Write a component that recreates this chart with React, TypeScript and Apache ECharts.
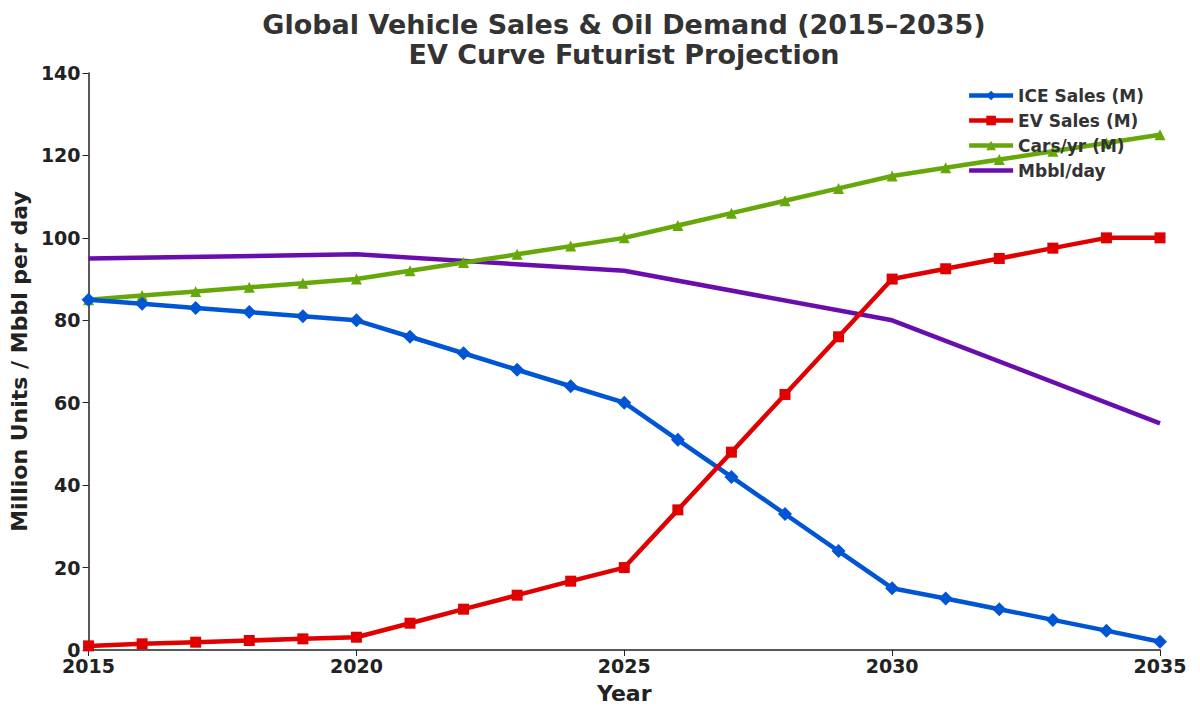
import React, { useEffect, useRef } from "react";
import * as echarts from "echarts";

const years = [2015, 2016, 2017, 2018, 2019, 2020, 2021, 2022, 2023, 2024, 2025, 2026, 2027, 2028, 2029, 2030, 2031, 2032, 2033, 2034, 2035];
const iceSales = [85, 84, 83, 82, 81, 80, 76, 72, 68, 64, 60, 51, 42, 33, 24, 15, 12.5, 9.9, 7.3, 4.7, 2];
const evSales = [1, 1.5, 1.9, 2.3, 2.7, 3.1, 6.5, 9.9, 13.3, 16.7, 20, 34, 48, 62, 76, 90, 92.5, 95, 97.5, 100, 100];
const carsPerYear = [85, 86, 87, 88, 89, 90, 92, 94, 96, 98, 100, 103, 106, 109, 112, 115, 117, 119, 121, 123, 125];
const oilYears = [2015, 2020, 2025, 2030, 2035];
const oilDemand = [95, 96, 92, 80, 55];

const FONT = "DejaVu Sans";

export default function App() {
  const ref = useRef<HTMLDivElement>(null);
  useEffect(() => {
    const chart = echarts.init(ref.current!, undefined, { renderer: "svg" });
    const pair = (xs: number[], ys: number[]) => xs.map((x, i) => [x, ys[i]]);
    chart.setOption({
      animation: false,
      backgroundColor: "#ffffff",
      textStyle: { fontFamily: FONT },
      title: {
        text: "Global Vehicle Sales & Oil Demand (2015–2035)\nEV Curve Futurist Projection",
        left: 619,
        top: 4,
        textAlign: "center",
        textStyle: { fontFamily: FONT, fontWeight: "bold", fontSize: 27, color: "#333333", lineHeight: 30 },
      },
      legend: {
        orient: "vertical",
        right: 51,
        top: 82,
        itemWidth: 44,
        itemHeight: 12,
        itemGap: 8,
        lineStyle: { width: 4.5 },
        textStyle: { fontFamily: FONT, fontWeight: "bold", fontSize: 17, color: "#333333" },
        data: [
          "ICE Sales (M)",
          "EV Sales (M)",
          "Cars/yr (M)",
          { name: "Mbbl/day", itemStyle: { opacity: 0 } },
        ],
      },
      grid: { left: 88, right: 40, top: 73, bottom: 65, containLabel: false },
      xAxis: {
        type: "value",
        min: 2015,
        max: 2035,
        interval: 5,
        name: "Year",
        nameLocation: "middle",
        nameGap: 32,
        nameTextStyle: { fontFamily: FONT, fontWeight: "bold", fontSize: 22, color: "#222222" },
        axisLine: { lineStyle: { color: "#222222", width: 1.5 } },
        axisTick: { show: true, length: 6, inside: false, lineStyle: { color: "#222222" } },
        axisLabel: {
          fontFamily: FONT,
          fontWeight: "bold",
          fontSize: 19,
          lineHeight: 15,
          color: "#222222",
          margin: 8,
          formatter: (v: number) => String(v),
        },
        splitLine: { show: false },
      },
      yAxis: {
        type: "value",
        min: 0,
        max: 140,
        interval: 20,
        name: "Million Units / Mbbl per day",
        nameLocation: "middle",
        nameGap: 52,
        nameTextStyle: { fontFamily: FONT, fontWeight: "bold", fontSize: 22, color: "#222222" },
        axisLine: { show: true, lineStyle: { color: "#222222", width: 1.5 } },
        axisTick: { show: true, length: 6, inside: false, lineStyle: { color: "#222222" } },
        axisLabel: { fontFamily: FONT, fontWeight: "bold", fontSize: 19, lineHeight: 15, color: "#222222", margin: 8 },
        splitLine: { show: false },
      },
      series: [
        {
          name: "ICE Sales (M)",
          type: "line",
          data: pair(years, iceSales),
          symbol: "diamond",
          symbolSize: 14,
          color: "#0055d4",
          lineStyle: { width: 4.5, color: "#0055d4" },
          itemStyle: { color: "#0055d4" },
          clip: true,
          z: 4,
        },
        {
          name: "EV Sales (M)",
          type: "line",
          data: pair(years, evSales),
          symbol: "rect",
          symbolSize: 11,
          color: "#e00000",
          lineStyle: { width: 4.5, color: "#e00000" },
          itemStyle: { color: "#e00000" },
          clip: true,
          z: 5,
        },
        {
          name: "Cars/yr (M)",
          type: "line",
          data: pair(years, carsPerYear),
          symbol: "triangle",
          symbolSize: 11,
          color: "#66a80a",
          lineStyle: { width: 4.5, color: "#66a80a" },
          itemStyle: { color: "#66a80a" },
          clip: true,
          z: 3,
        },
        {
          name: "Mbbl/day",
          type: "line",
          data: pair(oilYears, oilDemand),
          symbol: "none",
          color: "#6a0dad",
          lineStyle: { width: 4.5, color: "#6a0dad" },
          itemStyle: { color: "#6a0dad" },
          clip: true,
          z: 2,
        },
      ],
    });
    return () => chart.dispose();
  }, []);
  return <div ref={ref} style={{ width: 1200, height: 715, margin: -8 }} />;
}
